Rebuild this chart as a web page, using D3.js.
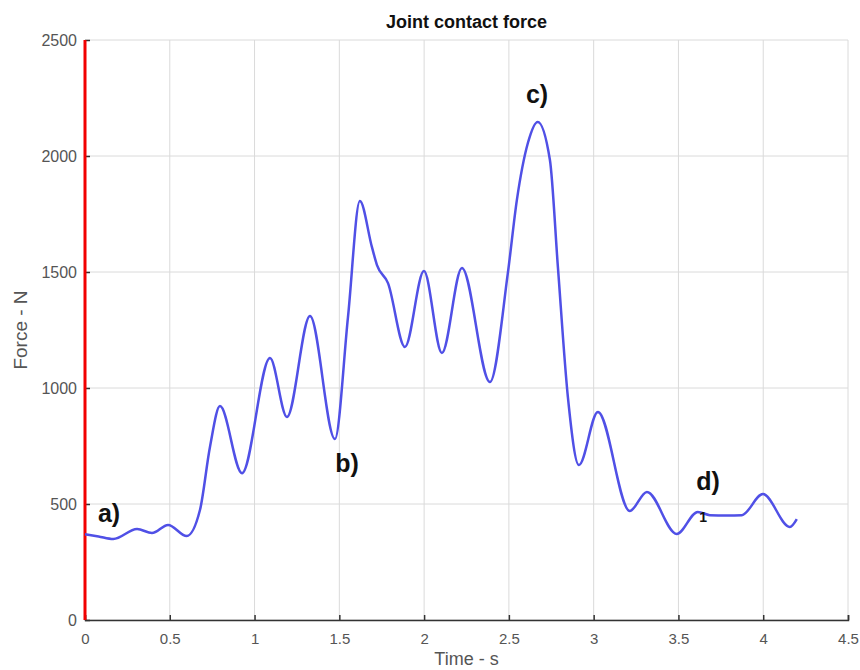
<!DOCTYPE html>
<html>
<head>
<meta charset="utf-8">
<script src="https://cdn.jsdelivr.net/npm/d3@7"></script>
<style>
  body { margin: 0; background: #fff; }
  svg { display: block; font-family: "Liberation Sans", Arial, sans-serif; }
  .tick text { fill: #555; font-size: 15px; }
</style>
</head>
<body>
<div id="chart"></div>
<script>
// time (s) and force (N)
var times = [0, 0.08, 0.167, 0.307, 0.395, 0.49, 0.6, 0.678, 0.737, 0.796, 0.926,
  1.091, 1.191, 1.327, 1.474, 1.551, 1.621, 1.692, 1.722, 1.787, 1.887,
  1.999, 2.105, 2.223, 2.388, 2.494, 2.547, 2.612, 2.67, 2.742, 2.789, 2.848, 2.913,
  3.025, 3.213, 3.314, 3.49, 3.614, 3.685, 3.785, 3.874, 3.998, 4.157, 4.198];
var force = [370, 360, 349, 392, 375, 410, 362, 474, 746, 922, 633,
  1129, 875, 1310, 780, 1306, 1806, 1608, 1530, 1452, 1177,
  1504, 1151, 1517, 1026, 1496, 1810, 2056, 2147, 1983, 1522, 961, 668,
  897, 470, 552, 371, 466, 452, 450, 452, 543, 401, 435];

var xTicks = [0, 0.5, 1, 1.5, 2, 2.5, 3, 3.5, 4, 4.5];
var yTicks = [0, 500, 1000, 1500, 2000, 2500];

// annotation labels, placed in data units
var labels = [
  { text: "a)", t: 0.142, f: 422 },
  { text: "b)", t: 1.545, f: 638 },
  { text: "c)", t: 2.666, f: 2228 },
  { text: "d)", t: 3.674, f: 560 }
];

var width = 860, height = 670;
var margin = { top: 40, right: 12, bottom: 50, left: 85 };
var chartWidth = width - margin.left - margin.right;
var chartHeight = height - margin.top - margin.bottom;

var svg = d3.select("#chart").append("svg")
  .attr("width", width)
  .attr("height", height);

var x = d3.scaleLinear().domain([0, 4.5]).range([0, chartWidth]);
var y = d3.scaleLinear().domain([0, 2500]).range([chartHeight, 0]);

var chart = svg.append("g")
  .attr("transform", `translate(${margin.left}, ${margin.top})`);

// grid
chart.append("g")
  .selectAll("line")
  .data(xTicks)
  .join("line")
  .attr("x1", d => x(d)).attr("x2", d => x(d))
  .attr("y1", 0).attr("y2", chartHeight)
  .attr("stroke", "#dadada").attr("stroke-width", 1);

chart.append("g")
  .selectAll("line")
  .data(yTicks)
  .join("line")
  .attr("x1", 0).attr("x2", chartWidth)
  .attr("y1", d => y(d)).attr("y2", d => y(d))
  .attr("stroke", "#dadada").attr("stroke-width", 1);

// x axis, ticks pointing inward
var xAxis = chart.append("g")
  .attr("transform", `translate(0, ${chartHeight})`)
  .call(d3.axisBottom(x).tickValues(xTicks).tickFormat(d => String(d)).tickSize(-5).tickPadding(13));
xAxis.select(".domain").attr("stroke", "#333").attr("stroke-width", 1.5);
xAxis.selectAll(".tick line").attr("stroke", "#333").attr("stroke-width", 1.5);

// y axis
var yAxis = chart.append("g")
  .call(d3.axisLeft(y).tickValues(yTicks).tickFormat(d => String(d)).tickSize(-5).tickPadding(8));
yAxis.select(".domain").remove();
yAxis.selectAll(".tick line").attr("stroke", "#333").attr("stroke-width", 1.5);
yAxis.selectAll(".tick text").style("font-size", "16px");

// red line on the left edge
chart.append("line")
  .attr("x1", 0).attr("x2", 0)
  .attr("y1", 0).attr("y2", chartHeight)
  .attr("stroke", "#f20000").attr("stroke-width", 3);

// force curve
var line = d3.line()
  .x((d, i) => x(times[i]))
  .y(d => y(d))
  .curve(d3.curveMonotoneX);

chart.append("path")
  .datum(force)
  .attr("d", line)
  .attr("fill", "none")
  .attr("stroke", "#5050e6")
  .attr("stroke-width", 2.5);

// annotations
chart.selectAll("text.note")
  .data(labels)
  .join("text")
  .attr("class", "note")
  .attr("x", d => x(d.t))
  .attr("y", d => y(d.f))
  .attr("text-anchor", "middle")
  .attr("font-size", 25)
  .attr("font-weight", "bold")
  .attr("fill", "#111")
  .text(d => d.text);

chart.append("text")
  .attr("x", x(3.645))
  .attr("y", y(422))
  .attr("text-anchor", "middle")
  .attr("font-size", 14)
  .attr("font-weight", "bold")
  .attr("fill", "#111")
  .text("1");

// title and axis labels
svg.append("text")
  .attr("x", margin.left + chartWidth / 2)
  .attr("y", 28)
  .attr("text-anchor", "middle")
  .attr("font-size", 18)
  .attr("font-weight", "bold")
  .attr("fill", "#111")
  .text("Joint contact force");

svg.append("text")
  .attr("x", margin.left + chartWidth / 2)
  .attr("y", 665)
  .attr("text-anchor", "middle")
  .attr("font-size", 18)
  .attr("fill", "#555")
  .text("Time - s");

svg.append("text")
  .attr("transform", `translate(27, ${margin.top + chartHeight / 2}) rotate(-90)`)
  .attr("text-anchor", "middle")
  .attr("font-size", 19)
  .attr("fill", "#555")
  .text("Force - N");
</script>
</body>
</html>
